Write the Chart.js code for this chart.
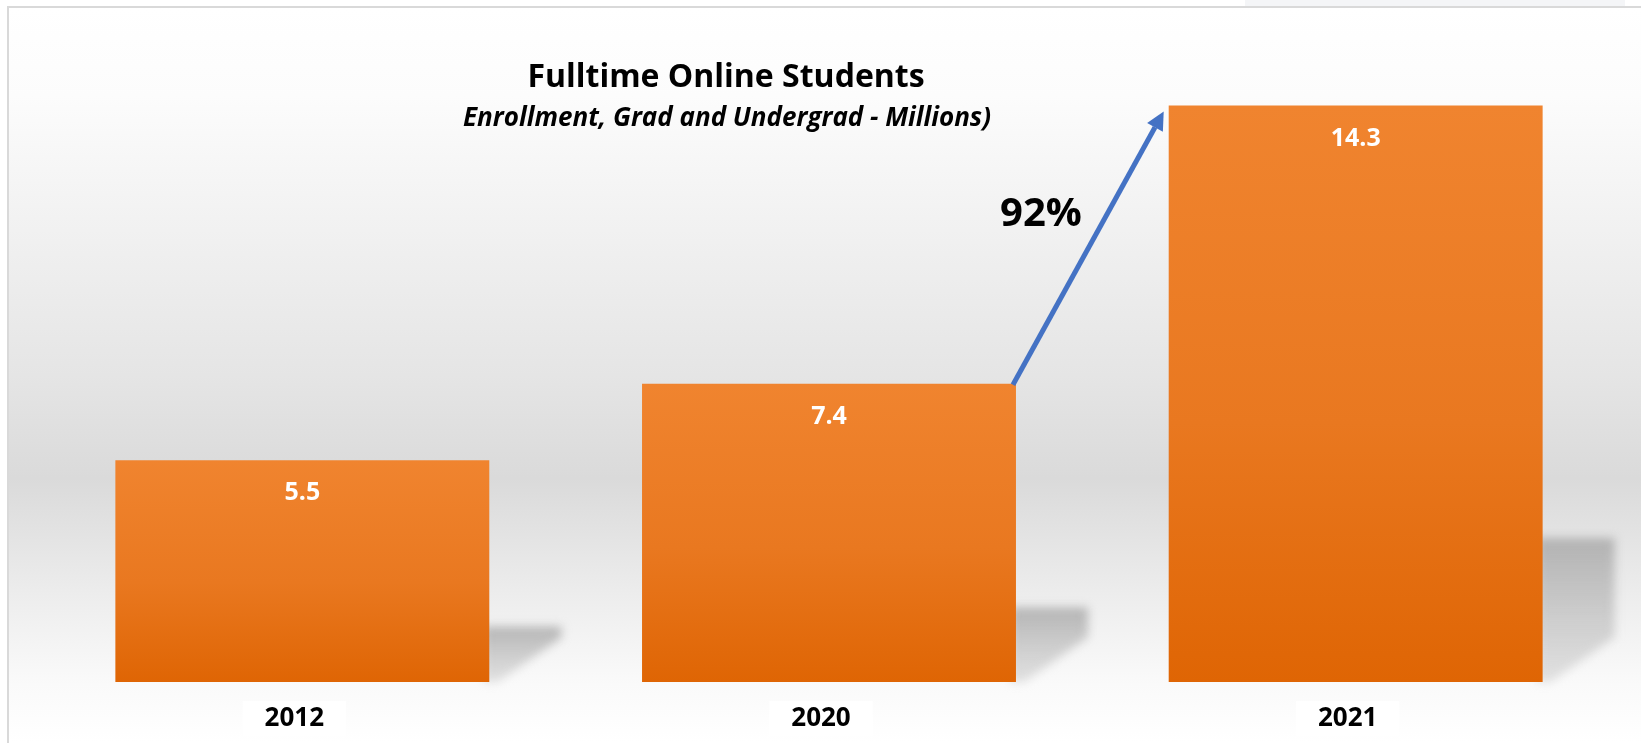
<!DOCTYPE html>
<html>
<head>
<meta charset="utf-8">
<script src="https://cdn.jsdelivr.net/npm/chart.js@4"></script>
<style>
  html, body { margin: 0; padding: 0; background: #fff; }
  #wrap { width: 1641px; height: 743px; }
</style>
</head>
<body>
<div id="wrap"><canvas id="studentsChart" width="1641" height="743"></canvas></div>
<script>
// chart data
const years = ['2012', '2020', '2021'];
const students = [5.5, 7.4, 14.3];
const growthText = '92%';
const titleText = 'Fulltime Online Students';
const subtitleText = 'Enrollment, Grad and Undergrad - Millions)';

const FONT = '"Open Sans", Lato, sans-serif';

// page background, frame and bar shadows
const backdropPlugin = {
    id: 'backdrop',
    beforeDraw(chart) {
        const ctx = chart.ctx;
        const w = chart.width, h = chart.height;
        ctx.save();
        ctx.fillStyle = '#ffffff';
        ctx.fillRect(0, 0, w, h);
        const g = ctx.createLinearGradient(0, 8, 0, h);
        g.addColorStop(0, '#ffffff');
        g.addColorStop(0.12, '#fcfcfc');
        g.addColorStop(0.5, '#e5e5e5');
        g.addColorStop(0.64, '#dadada');
        g.addColorStop(0.8, '#ededed');
        g.addColorStop(0.92, '#fafafa');
        g.addColorStop(1, '#ffffff');
        ctx.fillStyle = g;
        ctx.fillRect(9, 8, w - 9, h - 8);
        // top-right strip
        ctx.fillStyle = '#f4f5f7';
        ctx.fillRect(1245, 0, 380, 6);
        // frame
        ctx.strokeStyle = '#d9d9d9';
        ctx.lineWidth = 2;
        ctx.beginPath();
        ctx.moveTo(8, h);
        ctx.lineTo(8, 7);
        ctx.lineTo(w, 7);
        ctx.stroke();
        ctx.restore();
    },
    beforeDatasetsDraw(chart) {
        const ctx = chart.ctx;
        const bars = chart.getDatasetMeta(0).data;
        ctx.save();
        ctx.filter = 'blur(5px)';
        bars.forEach(bar => {
            if (!isFinite(bar.y) || !isFinite(bar.base)) return;
            const r = bar.x + bar.width / 2;
            const hgt = (bar.base - bar.y) * 0.25;
            const top = bar.base - hgt;
            const sg = ctx.createLinearGradient(0, top, 0, bar.base);
            sg.addColorStop(0, 'rgba(165,165,165,0.8)');
            sg.addColorStop(1, 'rgba(200,200,200,0.5)');
            ctx.fillStyle = sg;
            ctx.beginPath();
            ctx.moveTo(r - 6, top);
            ctx.lineTo(r + 72, top);
            ctx.lineTo(r + 72, bar.base - Math.min(45, hgt * 0.8));
            ctx.lineTo(r + 8, bar.base);
            ctx.lineTo(r - 6, bar.base);
            ctx.closePath();
            ctx.fill();
        });
        ctx.restore();
    }
};

// value labels, titles and growth arrow
const annotatePlugin = {
    id: 'annotate',
    afterDatasetsDraw(chart) {
        const ctx = chart.ctx;
        const bars = chart.getDatasetMeta(0).data;
        ctx.save();
        ctx.textAlign = 'center';
        ctx.textBaseline = 'middle';

        ctx.fillStyle = '#ffffff';
        ctx.font = 'bold 25px ' + FONT;
        bars.forEach((bar, i) => {
            ctx.fillText(students[i].toFixed(1), bar.x, bar.y + 33);
        });

        ctx.fillStyle = '#000000';
        ctx.font = 'bold 32px ' + FONT;
        ctx.fillText(titleText, 726, 78);
        ctx.font = 'italic bold 26px ' + FONT;
        ctx.fillText(subtitleText, 727, 119);

        ctx.font = 'bold 40px ' + FONT;
        ctx.fillText(growthText, 1041, 215);

        // arrow from 2020 bar to 2021 bar
        const a = bars[1], b = bars[2];
        const x0 = a.x + a.width / 2 - 3, y0 = a.y + 1;
        const x1 = b.x - b.width / 2 - 5, y1 = b.y + 6;
        const ang = Math.atan2(y1 - y0, x1 - x0);
        const head = 18, half = 9;
        ctx.strokeStyle = '#4472c4';
        ctx.fillStyle = '#4472c4';
        ctx.lineWidth = 5;
        ctx.beginPath();
        ctx.moveTo(x0, y0);
        ctx.lineTo(x1 - head * Math.cos(ang), y1 - head * Math.sin(ang));
        ctx.stroke();
        ctx.beginPath();
        ctx.moveTo(x1, y1);
        ctx.lineTo(x1 - head * Math.cos(ang) + half * Math.sin(ang), y1 - head * Math.sin(ang) - half * Math.cos(ang));
        ctx.lineTo(x1 - head * Math.cos(ang) - half * Math.sin(ang), y1 - head * Math.sin(ang) + half * Math.cos(ang));
        ctx.closePath();
        ctx.fill();
        ctx.restore();
    }
};

function barGradient(context) {
    const chart = context.chart;
    const y = chart.scales.y;
    if (!y || context.dataIndex === undefined) return '#ea7a20';
    const top = y.getPixelForValue(students[context.dataIndex]);
    const bottom = y.getPixelForValue(0);
    if (!isFinite(top) || !isFinite(bottom)) return '#ea7a20';
    const g = chart.ctx.createLinearGradient(0, top, 0, bottom);
    g.addColorStop(0, '#f0842f');
    g.addColorStop(0.55, '#e97820');
    g.addColorStop(1, '#df6504');
    return g;
}

const chart = new Chart(document.getElementById('studentsChart').getContext('2d'), {
    type: 'bar',
    data: {
        labels: years,
        datasets: [{
            label: 'Students (millions)',
            data: students,
            backgroundColor: barGradient,
            borderWidth: 0,
            barPercentage: 0.71,
            categoryPercentage: 1
        }]
    },
    options: {
        responsive: false,
        animation: false,
        devicePixelRatio: 1,
        layout: {
            padding: { left: 39, right: 22, top: 37, bottom: 0 }
        },
        plugins: {
            legend: { display: false },
            title: { display: false },
            tooltip: { enabled: false }
        },
        scales: {
            x: {
                grid: { display: false, drawTicks: false },
                border: { display: false },
                afterFit(scale) { scale.height = 61; },
                ticks: {
                    color: '#000000',
                    font: { family: FONT, size: 26, weight: 'bold' },
                    padding: 21,
                    labelOffset: -8,
                    showLabelBackdrop: true,
                    backdropColor: '#ffffff',
                    backdropPadding: { left: 22, right: 22, top: 2, bottom: 2 }
                }
            },
            y: {
                display: false,
                min: 0,
                max: 16
            }
        }
    },
    plugins: [backdropPlugin, annotatePlugin]
});
</script>
</body>
</html>
